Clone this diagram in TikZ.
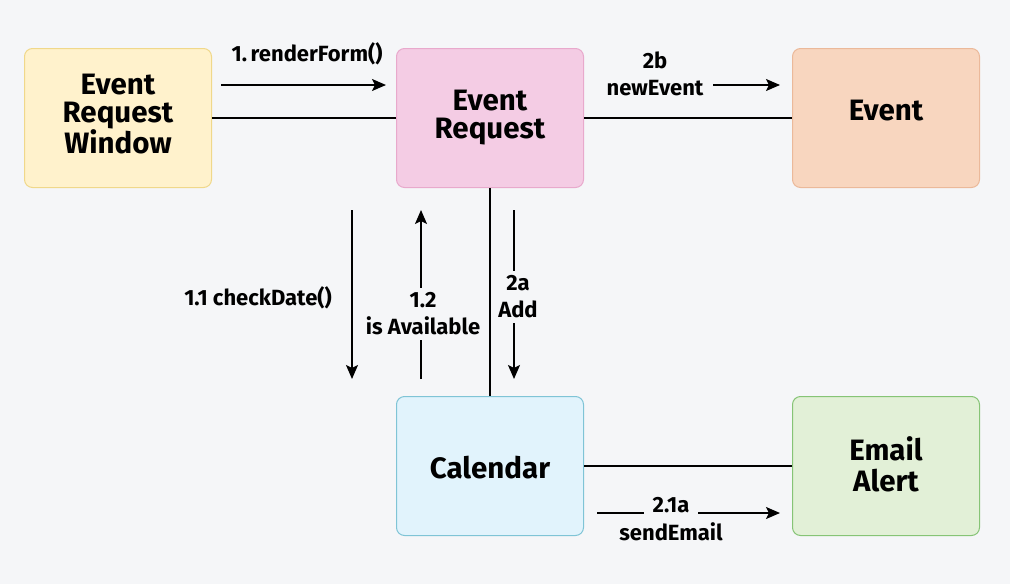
\documentclass[tikz,border=0pt]{standalone}
\usepackage{fontspec}
\setmainfont{Fira Sans}
\usetikzlibrary{arrows.meta}
\definecolor{bg}{HTML}{F5F6F8}
\definecolor{yfill}{HTML}{FFF2CC}\definecolor{ydraw}{HTML}{F0D88A}
\definecolor{pfill}{HTML}{F4CCE4}\definecolor{pdraw}{HTML}{E8A9CC}
\definecolor{ofill}{HTML}{F8D6BF}\definecolor{odraw}{HTML}{EBB99A}
\definecolor{bfill}{HTML}{E1F3FC}\definecolor{bdraw}{HTML}{7FC4D6}
\definecolor{gfill}{HTML}{E2F0D7}\definecolor{gdraw}{HTML}{86C476}
\begin{document}
\begin{tikzpicture}[x=1pt,y=-1pt,
  box/.style={draw, rounded corners=8pt, line width=1pt, minimum width=187pt, minimum height=139pt},
  boxtxt/.style={align=center, text=black, inner sep=0pt, font=\fontsize{29.5}{28}\selectfont\bfseries},
  link/.style={line width=1.8pt, black},
  msg/.style={line width=1.6pt, black, -{Stealth[length=14pt,width=12pt,inset=3pt]}},
  lbl/.style={align=center, text=black, font=\fontsize{22}{27}\selectfont\bfseries, inner sep=0pt},
  lblbg/.style={lbl, fill=bg, inner xsep=3pt, inner ysep=5pt}]
\fill[bg] (0,0) rectangle (1010,584);
\useasboundingbox (0,0) rectangle (1010,584);

\node[box, fill=yfill, draw=ydraw] (erw) at (118,118) {};
\node[box, fill=pfill, draw=pdraw] (er) at (490,118) {};
\node[box, fill=ofill, draw=odraw] (ev) at (886,118) {};
\node[box, fill=bfill, draw=bdraw] (cal) at (490,466) {};
\node[box, fill=gfill, draw=gdraw] (em) at (886,466) {};

\node[boxtxt] (erwT) at (118,114) {Event\\Request\\Window};
\node[boxtxt, font=\fontsize{29.5}{28.5}\selectfont\bfseries] (erT) at (490,117.5) {Event\\Request};
\node[boxtxt] (evT) at (886,110.5) {Event};
\node[boxtxt] (calT) at (490,468) {Calendar};
\node[boxtxt, font=\fontsize{29.5}{31}\selectfont\bfseries] (emT) at (886,464.5) {Email\\Alert};

% connectors
\draw[link] (erw.east) -- (er.west);
\draw[link] (er.east) -- (ev.west);
\draw[link] (er.south) -- (cal.north);
\draw[link] (cal.east) -- (em.west);

% message arrows
\coordinate (rfA) at (221,85); \coordinate (rfB) at (386,85);
\draw[msg] (rfA) -- (rfB);
\node[lbl] (rfL) at (307,54) {1.\,renderForm()};

\coordinate (neA) at (713,85); \coordinate (neB) at (780,85);
\draw[msg] (neA) -- (neB);
\node[lbl] (neL) at (655,74) {2b\\newEvent};

\coordinate (cdA) at (352,210); \coordinate (cdB) at (352,379);
\draw[msg] (cdA) -- (cdB);
\node[lbl] (cdL) at (258,298) {1.1 checkDate()};

\coordinate (iaA) at (421,379); \coordinate (iaB) at (421,210);
\draw[msg] (iaA) -- (iaB);
\node[lblbg] (iaL) at (423,314) {1.2\\is Available};

\coordinate (adA) at (514,210); \coordinate (adB) at (514,379);
\draw[msg] (adA) -- (adB);
\node[lblbg] (adL) at (518,297) {2a\\Add};

\coordinate (seA) at (597,513); \coordinate (seB) at (780,513);
\draw[msg] (seA) -- (seB);
\node[lblbg, inner xsep=9pt] (seL) at (671,505.5) {2.1a};
\node[lbl] (seL2) at (671,532) {sendEmail};
\end{tikzpicture}
\end{document}
